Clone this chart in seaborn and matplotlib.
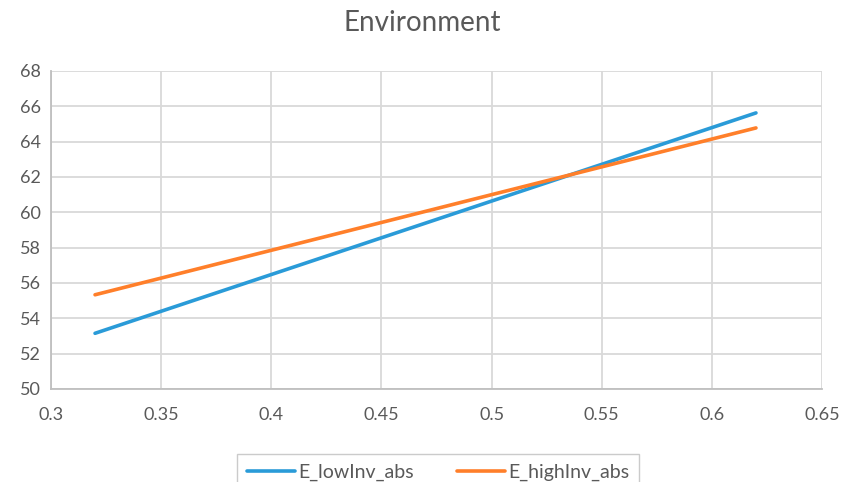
import pandas as pd
import seaborn as sns
import matplotlib
matplotlib.use("Agg")
import matplotlib.pyplot as plt

# values
x_vals = [0.32, 0.62]
low_inv = [53.15, 65.62]
high_inv = [55.33, 64.77]
series_names = ["E_lowInv_abs", "E_highInv_abs"]
colors = ["#2A9BD8", "#FF7F2A"]

df = pd.DataFrame({
    "x": x_vals * 2,
    "y": low_inv + high_inv,
    "series": [series_names[0]] * len(x_vals) + [series_names[1]] * len(x_vals),
})

sns.set_style("white")
plt.rcParams["font.family"] = ["Lato", "DejaVu Sans"]
text_color = "#595959"
grid_color = "#D9D9D9"

fig = plt.figure(figsize=(8.44, 4.82), dpi=100)
ax = fig.add_axes([0.0604, 0.193, 0.9136, 0.66])

sns.lineplot(data=df, x="x", y="y", hue="series", palette=colors,
             linewidth=2.6, ax=ax, legend=False)

ax.set_xlim(0.3, 0.65)
ax.set_ylim(50, 68)
ax.set_xticks([0.3, 0.35, 0.4, 0.45, 0.5, 0.55, 0.6, 0.65])
ax.set_xticklabels(["0.3", "0.35", "0.4", "0.45", "0.5", "0.55", "0.6", "0.65"])
ax.set_yticks(range(50, 69, 2))
ax.grid(True, color=grid_color, linewidth=1.3)
ax.set_axisbelow(True)
for side in ["top", "right"]:
    ax.spines[side].set_visible(False)
for side in ["left", "bottom"]:
    ax.spines[side].set_color("#BFBFBF")
    ax.spines[side].set_linewidth(1.3)
ax.tick_params(axis="both", length=0, labelsize=13, colors=text_color)
ax.tick_params(axis="x", pad=13)
ax.tick_params(axis="y", pad=7)
ax.set_xlabel("")
ax.set_ylabel("")

fig.suptitle("Environment", x=0.5, y=0.98, fontsize=20, color=text_color)

handles = [plt.Line2D([], [], color=c, linewidth=2.6) for c in colors]
leg = fig.legend(handles, series_names, loc="upper center",
                 bbox_to_anchor=(0.519, 0.078), ncol=2, frameon=True,
                 fontsize=14, handlelength=2.5, handletextpad=0.15,
                 columnspacing=2.2, borderpad=0.5, fancybox=False,
                 labelcolor=text_color)
leg.get_frame().set_edgecolor("#BFBFBF")
leg.get_frame().set_linewidth(1.0)

fig.savefig("out.png", dpi=100)
